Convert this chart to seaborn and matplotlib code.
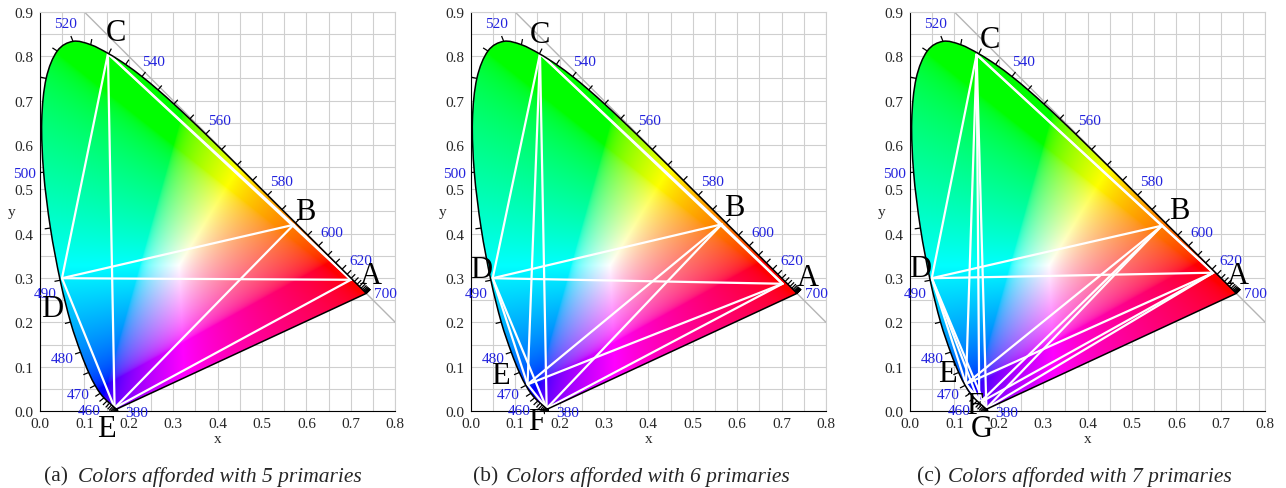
import numpy as np
import pandas as pd
import seaborn as sns
import matplotlib.pyplot as plt
from matplotlib.patches import PathPatch
from matplotlib.path import Path
from matplotlib.collections import LineCollection
from itertools import combinations

# CIE 1931 spectral locus, 380-700 nm in 5 nm steps
wavelengths = list(range(380, 705, 5))
locus_x = [0.17411, 0.17401, 0.17380, 0.17356, 0.17334, 0.17302, 0.17258, 0.17209,
           0.17141, 0.17030, 0.16888, 0.16690, 0.16441, 0.16110, 0.15664, 0.15099,
           0.14396, 0.13550, 0.12412, 0.10959, 0.09129, 0.06871, 0.04539, 0.02346,
           0.00817, 0.00386, 0.01387, 0.03885, 0.07430, 0.11416, 0.15472, 0.19288,
           0.22962, 0.26578, 0.30160, 0.33736, 0.37310, 0.40874, 0.44406, 0.47877,
           0.51249, 0.54479, 0.57515, 0.60293, 0.62704, 0.64823, 0.66576, 0.68008,
           0.69150, 0.70061, 0.70792, 0.71403, 0.71903, 0.72303, 0.72599, 0.72827,
           0.72997, 0.73109, 0.73199, 0.73272, 0.73342, 0.73405, 0.73439, 0.73459,
           0.73469]
locus_y = [0.00496, 0.00498, 0.00492, 0.00492, 0.00480, 0.00478, 0.00480, 0.00483,
           0.00510, 0.00579, 0.00690, 0.00856, 0.01086, 0.01379, 0.01771, 0.02274,
           0.02970, 0.03988, 0.05780, 0.08684, 0.13270, 0.20072, 0.29498, 0.41270,
           0.53842, 0.65482, 0.75019, 0.81202, 0.83380, 0.82621, 0.80586, 0.78163,
           0.75433, 0.72432, 0.69231, 0.65885, 0.62445, 0.58961, 0.55471, 0.52020,
           0.48659, 0.45443, 0.42423, 0.39650, 0.37249, 0.35139, 0.33401, 0.31975,
           0.30834, 0.29930, 0.29203, 0.28593, 0.28093, 0.27695, 0.27401, 0.27173,
           0.27003, 0.26891, 0.26801, 0.26728, 0.26658, 0.26595, 0.26561, 0.26541,
           0.26531]
labelled_nm = [380, 460, 470, 480, 490, 500, 520, 540, 560, 580, 600, 620, 700]

# primaries of each panel
names_a = ['A', 'B', 'C', 'D', 'E']
prim_x_a = [0.700, 0.571, 0.153, 0.0495, 0.168]
prim_y_a = [0.296, 0.420, 0.806, 0.2995, 0.007]

names_b = ['A', 'B', 'C', 'D', 'E', 'F']
prim_x_b = [0.702, 0.565, 0.156, 0.0495, 0.128, 0.171]
prim_y_b = [0.287, 0.421, 0.806, 0.2995, 0.060, 0.006]

names_c = ['A', 'B', 'C', 'D', 'E', 'F', 'G']
prim_x_c = [0.683, 0.567, 0.150, 0.049, 0.126, 0.156, 0.172]
prim_y_c = [0.312, 0.418, 0.804, 0.2995, 0.061, 0.018, 0.006]

captions = ['(a)', '(b)', '(c)']
caption_text = ['Colors afforded with 5 primaries',
                'Colors afforded with 6 primaries',
                'Colors afforded with 7 primaries']

# layout: where the letters sit
letter_pos_a = [(0.745, 0.305), (0.597, 0.450), (0.171, 0.853), (0.027, 0.232), (0.150, -0.040)]
letter_pos_b = [(0.760, 0.302), (0.593, 0.458), (0.156, 0.849), (0.0225, 0.319), (0.066, 0.080),
                (0.149, -0.024)]
letter_pos_c = [(0.738, 0.305), (0.606, 0.452), (0.180, 0.838), (0.0225, 0.321), (0.084, 0.0835),
                (0.146, 0.012), (0.161, -0.040)]

sns.set_style('white')
plt.rcParams['font.family'] = ['Liberation Serif', 'DejaVu Serif']


def chroma_image(n=700):
    xs = np.linspace(0, 0.8, n)
    ys = np.linspace(0.0005, 0.9, n)
    X, Y = np.meshgrid(xs, ys)
    XYZ = np.stack([X / Y, np.ones_like(X), (1 - X - Y) / Y], axis=-1)
    M = np.array([[3.2406, -1.5372, -0.4986],
                  [-0.9689, 1.8758, 0.0415],
                  [0.0557, -0.2040, 1.0570]])
    rgb = np.clip(XYZ @ M.T, 0, None)
    rgb = rgb / (rgb.max(axis=-1, keepdims=True) + 1e-12)
    rgb = np.where(rgb <= 0.0031308, 12.92 * rgb, 1.055 * rgb ** (1 / 2.4) - 0.055)
    return np.clip(rgb, 0, 1)


def edge_frame(xs, ys):
    rows = []
    for k, (i, j) in enumerate(combinations(range(len(xs)), 2)):
        rows.append((k, xs[i], ys[i]))
        rows.append((k, xs[j], ys[j]))
    return pd.DataFrame(rows, columns=['edge', 'x', 'y'])


def locus_path(p):
    # smooth curve through the locus points (Catmull-Rom as Bezier), straight purple line back
    verts = [p[0]]
    codes = [Path.MOVETO]
    m = len(p)
    for i in range(m - 1):
        p0 = p[max(i - 1, 0)]
        p1, p2 = p[i], p[i + 1]
        p3 = p[min(i + 2, m - 1)]
        verts += [p1 + (p2 - p0) / 6, p2 - (p3 - p1) / 6, p2]
        codes += [Path.CURVE4] * 3
    verts += [p[0], p[0]]
    codes += [Path.LINETO, Path.CLOSEPOLY]
    return Path(verts, codes)


img = chroma_image()
pts = np.c_[locus_x, locus_y]
n = len(pts)
hi = np.minimum(np.arange(n) + 2, n - 1)
lo = np.maximum(np.arange(n) - 2, 0)
tang = pts[hi] - pts[lo]
tang /= np.linalg.norm(tang, axis=1, keepdims=True)
normal = np.c_[-tang[:, 1], tang[:, 0]]
label_dirs = {380: (1.0, -0.2), 700: (1.0, 0.0), 490: (-0.75, -0.65)}

fig = plt.figure(figsize=(12.86, 4.89), dpi=100)
lefts = [40 / 1286, 470.7 / 1286, 910 / 1286]
panels = [(names_a, prim_x_a, prim_y_a, letter_pos_a),
          (names_b, prim_x_b, prim_y_b, letter_pos_b),
          (names_c, prim_x_c, prim_y_c, letter_pos_c)]
cap_right = [68, 498, 941]
cap_left = [78, 506, 948]

for p, (names, px, py, lpos) in enumerate(panels):
    ax = fig.add_axes([lefts[p], 77 / 489, 355.3 / 1286, 399 / 489])

    # x + y = 1 guide
    ax.plot([0.1, 0.8], [0.9, 0.2], color='#b5b5b5', lw=1, zorder=1)

    # chromaticity colours clipped to the locus
    lpath = locus_path(pts)
    clip = PathPatch(lpath, facecolor='none', edgecolor='none')
    ax.add_patch(clip)
    im = ax.imshow(img, origin='lower', extent=[0, 0.8, 0, 0.9], aspect='auto',
                   interpolation='bilinear', zorder=2)
    im.set_clip_path(clip)

    # primaries, every pair joined
    sns.lineplot(data=edge_frame(px, py), x='x', y='y', units='edge', estimator=None,
                 sort=False, color='white', lw=1.6, ax=ax, legend=False, zorder=3)

    # outline
    ax.add_patch(PathPatch(lpath, facecolor='none', edgecolor='black', lw=1.1, zorder=4))

    # wavelength ticks
    segs = [[pts[i], pts[i] + normal[i] * 0.013] for i in range(n)]
    ax.add_collection(LineCollection(segs, colors='black', lw=0.9, zorder=4))
    for wl in labelled_nm:
        i = wavelengths.index(wl)
        d = np.array(label_dirs.get(wl, normal[i]))
        d = d / np.linalg.norm(d)
        cx, cy = pts[i] + d * 0.044
        ax.text(cx, cy, str(wl), color='#2222dd', fontsize=11, ha='center', va='center',
                zorder=5)

    for name, (lx, ly) in zip(names, lpos):
        ax.text(lx, ly, name, fontsize=22, ha='center', va='center', color='black',
                zorder=6, clip_on=False)

    ax.set_xlim(0, 0.8)
    ax.set_ylim(0, 0.9)
    ax.set_xticks(np.round(np.arange(0, 0.81, 0.1), 2))
    ax.set_yticks(np.round(np.arange(0, 0.91, 0.1), 2))
    ax.set_xticks(np.arange(0.05, 0.8, 0.1), minor=True)
    ax.set_yticks(np.arange(0.05, 0.9, 0.1), minor=True)
    ax.xaxis.set_major_formatter(lambda v, pos: f'{v:.1f}')
    ax.yaxis.set_major_formatter(lambda v, pos: f'{v:.1f}')
    ax.tick_params(which='major', length=3, width=0.8, labelsize=11, pad=1.5, color='black')
    ax.tick_params(which='minor', length=0)
    ax.grid(which='both', color='#cfcfcf', lw=0.8)
    ax.set_axisbelow(True)
    for s in ['top', 'right']:
        ax.spines[s].set_color('#cfcfcf')
    for s in ['left', 'bottom']:
        ax.spines[s].set_color('black')
        ax.spines[s].set_linewidth(0.8)
    ax.set_xlabel('x', fontsize=11, labelpad=1)
    ax.set_ylabel('y', fontsize=11, labelpad=2, rotation=0, va='center')

    fig.text(cap_right[p] / 1286, 1 - 476.7 / 489, captions[p], fontsize=15.5,
             ha='right', va='center')
    fig.text(cap_left[p] / 1286, 1 - 476.7 / 489, caption_text[p], fontsize=15.5,
             ha='left', va='center', style='italic')

fig.savefig('out.png', dpi=100)
